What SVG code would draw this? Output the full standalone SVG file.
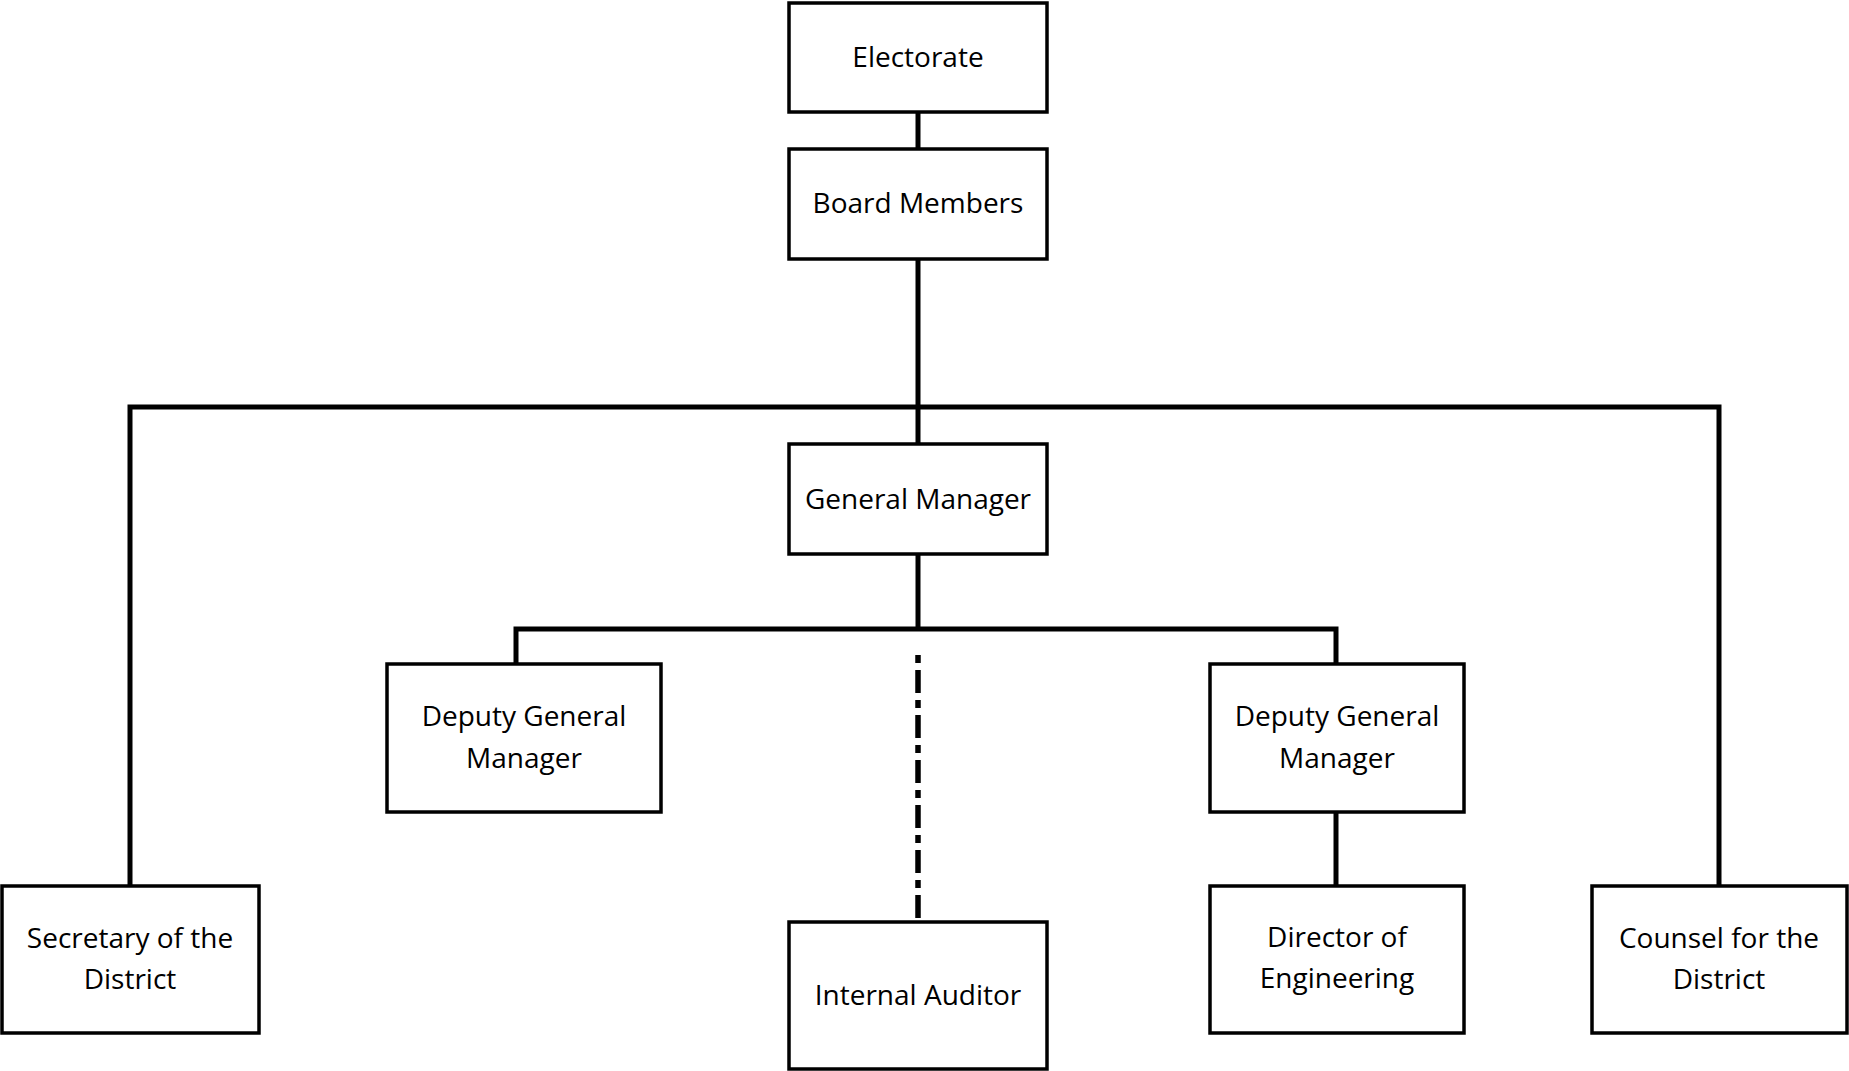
<svg xmlns="http://www.w3.org/2000/svg" width="1849" height="1071" viewBox="0 0 1849 1071">
<style>
.box{fill:#fff;stroke:#000;stroke-width:3.5}
.t{font-family:"Open Sans","Noto Sans","Liberation Sans",sans-serif;font-size:28px;fill:#000;text-anchor:middle}
.c{fill:none;stroke:#000;stroke-width:5}
.d{fill:none;stroke:#000;stroke-width:5.5;stroke-dasharray:8 7 23 7}
</style>
<rect width="1849" height="1071" fill="#fff"/>
<g id="connectors">
<line class="c" x1="918" y1="112" x2="918" y2="149"/>
<line class="c" x1="918" y1="259" x2="918" y2="444"/>
<polyline class="c" points="130,885 130,407 1719,407 1719,885"/>
<line class="c" x1="918" y1="554" x2="918" y2="629"/>
<polyline class="c" points="516,664 516,629 1336,629 1336,664"/>
<line class="d" x1="918" y1="655" x2="918" y2="922"/>
<line class="c" x1="1336" y1="812" x2="1336" y2="886"/>
</g>
<g id="electorate">
<rect class="box" x="789" y="3" width="258" height="109"/>
<text class="t" x="918" y="67">Electorate</text>
</g>
<g id="board">
<rect class="box" x="789" y="149" width="258" height="110"/>
<text class="t" x="918" y="213">Board Members</text>
</g>
<g id="gm">
<rect class="box" x="789" y="444" width="258" height="110"/>
<text class="t" x="918" y="509">General Manager</text>
</g>
<g id="dgm1">
<rect class="box" x="387" y="664" width="274" height="148"/>
<text class="t" x="524" y="726">Deputy General</text>
<text class="t" x="524" y="768">Manager</text>
</g>
<g id="dgm2">
<rect class="box" x="1210" y="664" width="254" height="148"/>
<text class="t" x="1337" y="726">Deputy General</text>
<text class="t" x="1337" y="768">Manager</text>
</g>
<g id="secretary">
<rect class="box" x="2" y="886" width="257" height="147"/>
<text class="t" x="130" y="948">Secretary of the</text>
<text class="t" x="130" y="989">District</text>
</g>
<g id="auditor">
<rect class="box" x="789" y="922" width="258" height="147"/>
<text class="t" x="918" y="1005">Internal Auditor</text>
</g>
<g id="director">
<rect class="box" x="1210" y="886" width="254" height="147"/>
<text class="t" x="1337" y="947">Director of</text>
<text class="t" x="1337" y="988">Engineering</text>
</g>
<g id="counsel">
<rect class="box" x="1592" y="886" width="255" height="147"/>
<text class="t" x="1719" y="948">Counsel for the</text>
<text class="t" x="1719" y="989">District</text>
</g>
</svg>
